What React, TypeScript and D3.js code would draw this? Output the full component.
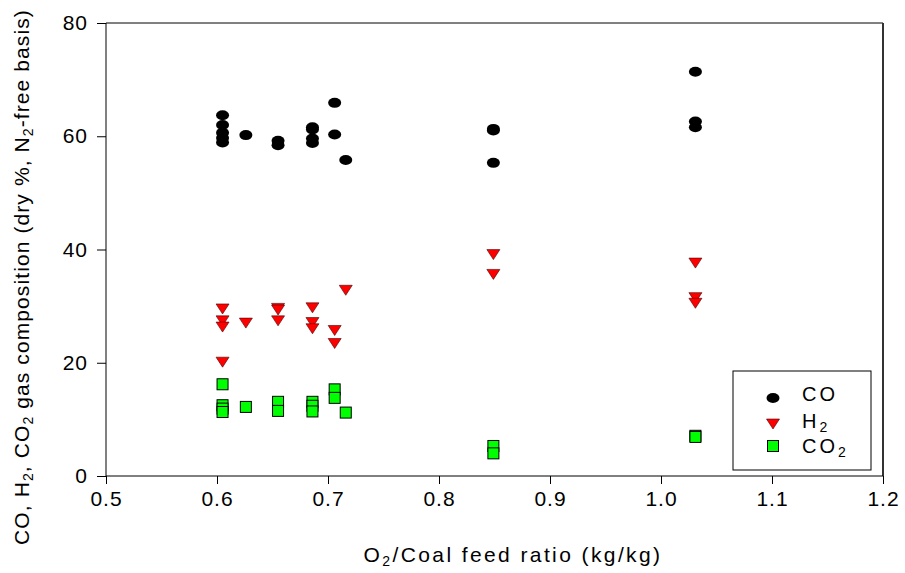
import React, { useEffect, useRef } from 'react';
import * as d3 from 'd3';

// CO series
const coX = [0.605, 0.605, 0.605, 0.605, 0.605, 0.626, 0.655, 0.655, 0.686, 0.686, 0.686, 0.686, 0.706, 0.706, 0.716, 0.849, 0.849, 0.849, 1.031, 1.031, 1.031];
const coY = [63.7, 62.0, 60.6, 59.7, 58.9, 60.2, 59.2, 58.4, 61.6, 61.2, 59.6, 58.8, 65.9, 60.3, 55.8, 61.3, 61.0, 55.3, 71.4, 62.6, 61.6];

// H2 series
const h2X = [0.605, 0.605, 0.605, 0.605, 0.626, 0.655, 0.655, 0.655, 0.686, 0.686, 0.686, 0.706, 0.706, 0.716, 0.849, 0.849, 1.031, 1.031, 1.031];
const h2Y = [29.5, 27.4, 26.3, 20.1, 27.0, 29.6, 29.3, 27.4, 29.7, 27.1, 26.0, 25.7, 23.4, 32.8, 39.1, 35.6, 37.6, 31.5, 30.5];

// CO2 series
const co2X = [0.605, 0.605, 0.605, 0.605, 0.626, 0.655, 0.655, 0.686, 0.686, 0.686, 0.706, 0.706, 0.716, 0.849, 0.849, 1.031, 1.031];
const co2Y = [16.2, 12.5, 11.9, 11.3, 12.2, 13.1, 11.5, 13.1, 12.4, 11.4, 15.3, 13.8, 11.2, 5.3, 4.0, 7.1, 6.9];

const xTicks = [0.5, 0.6, 0.7, 0.8, 0.9, 1.0, 1.1, 1.2];
const yTicks = [0, 20, 40, 60, 80];

const W = 905;
const H = 573;
const L = 106, R = 883, T = 23, B = 476;
const FONT = "'Liberation Sans', Arial, sans-serif";

export default function App() {
  const xAxisRef = useRef<SVGGElement>(null);
  const yAxisRef = useRef<SVGGElement>(null);

  const x = d3.scaleLinear().domain([0.5, 1.2]).range([L, R]);
  const y = d3.scaleLinear().domain([0, 80]).range([B, T]);

  useEffect(() => {
    const xa = d3.select(xAxisRef.current!);
    xa.call(d3.axisBottom(x).tickValues(xTicks).tickFormat(d3.format('.1f')).tickSize(8).tickPadding(7) as any);
    xa.select('.domain').remove();
    xa.selectAll('text').attr('font-size', 21).attr('font-family', FONT).attr('fill', '#000').attr('letter-spacing', 1);
    xa.selectAll('line').attr('stroke', '#000');

    const ya = d3.select(yAxisRef.current!);
    ya.call(d3.axisLeft(y).tickValues(yTicks).tickFormat(d3.format('d')).tickSize(9).tickPadding(9) as any);
    ya.select('.domain').remove();
    ya.selectAll('text').attr('font-size', 21).attr('font-family', FONT).attr('fill', '#000').attr('letter-spacing', 1);
    ya.selectAll('line').attr('stroke', '#000');
  }, []);

  const tri = (cx: number, cy: number) => `M${cx - 6.5},${cy - 5}L${cx + 6.5},${cy - 5}L${cx},${cy + 5}Z`;

  const legX = 773;
  const legTextX = 802;

  return (
    <svg width={W} height={H} style={{ position: 'absolute', left: 0, top: 0, background: '#fff' }} fontFamily={FONT}>
      <rect x={0} y={0} width={W} height={H} fill="#fff" />
      {/* frame */}
      <line x1={L} x2={R} y1={T} y2={T} stroke="#000" strokeWidth={1} />
      <line x1={R} x2={R} y1={T} y2={B} stroke="#333" strokeWidth={2} />
      <line x1={L} x2={L} y1={T} y2={B} stroke="#000" strokeWidth={1} />
      <line x1={L} x2={R} y1={B} y2={B} stroke="#000" strokeWidth={1} />
      <g ref={xAxisRef} transform={`translate(0,${B})`} />
      <g ref={yAxisRef} transform={`translate(${L},0)`} />

      {/* CO2 squares */}
      {co2X.map((v, i) => (
        <rect key={'c2' + i} x={x(v) - 5.5} y={y(co2Y[i]) - 5.5} width={11} height={11} fill="#00ff00" stroke="#000" strokeWidth={1} />
      ))}
      {/* H2 triangles */}
      {h2X.map((v, i) => (
        <path key={'h' + i} d={tri(x(v), y(h2Y[i]))} fill="#ff0000" stroke="#400" strokeWidth={0.6} />
      ))}
      {/* CO ellipses */}
      {coX.map((v, i) => (
        <ellipse key={'c' + i} cx={x(v)} cy={y(coY[i])} rx={6.5} ry={5} fill="#000" />
      ))}

      {/* legend */}
      <rect x={733} y={371} width={138} height={99} fill="#fff" stroke="#000" strokeWidth={1} />
      <ellipse cx={legX} cy={398} rx={6.5} ry={5} fill="#000" />
      <path d={tri(legX, 424)} fill="#ff0000" stroke="#400" strokeWidth={0.6} />
      <rect x={legX - 5.5} y={446 - 5.5} width={11} height={11} fill="#00ff00" stroke="#000" />
      <text x={legTextX} y={401} fontSize={20} letterSpacing={3}>CO</text>
      <text x={legTextX} y={428} fontSize={20} letterSpacing={3}>H<tspan fontSize={14} dy={4}>2</tspan></text>
      <text x={legTextX} y={453} fontSize={20} letterSpacing={3}>CO<tspan fontSize={14} dy={4}>2</tspan></text>

      {/* x title */}
      <text x={513} y={562} fontSize={21} letterSpacing={2.4} textAnchor="middle">
        O<tspan fontSize={14} dy={4}>2</tspan><tspan dy={-4}>/Coal feed ratio (kg/kg)</tspan>
      </text>
      {/* y title */}
      <text transform={`translate(29,${277}) rotate(-90)`} fontSize={21} letterSpacing={1.1} textAnchor="middle">
        CO, H<tspan fontSize={14} dy={4}>2</tspan><tspan dy={-4}>, CO</tspan><tspan fontSize={14} dy={4}>2</tspan><tspan dy={-4}> gas composition (dry %, N</tspan><tspan fontSize={14} dy={4}>2</tspan><tspan dy={-4}>-free basis)</tspan>
      </text>
    </svg>
  );
}
